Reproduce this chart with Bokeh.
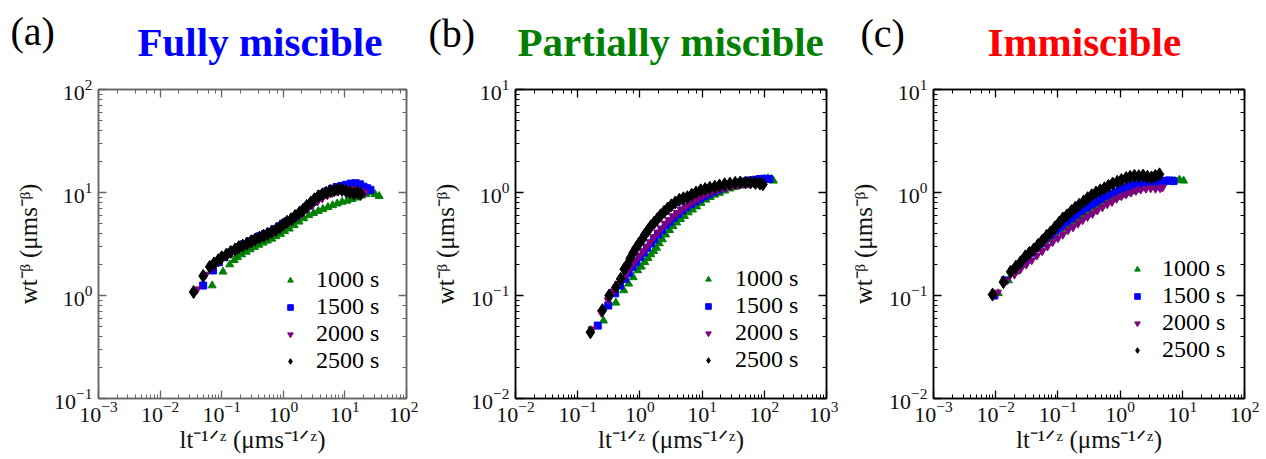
from bokeh.plotting import figure
from bokeh.layouts import row, column
from bokeh.models import LogAxis, Legend, LegendItem, Range1d, ColumnDataSource, Text
from bokeh.core.properties import value
from bokeh.embed import file_html
from bokeh.resources import INLINE

# ---------------- data ----------------
series_labels = ["1000 s", "1500 s", "2000 s", "2500 s"]

# Panel (a) Fully miscible
a_x_1000 = [0.07, 0.105, 0.135, 0.16, 0.18, 0.21, 0.25, 0.29, 0.34, 0.4, 0.47, 0.55, 0.65, 0.76, 0.9, 1.05, 1.25, 1.5,
            1.8, 2.15, 2.6, 3.1, 3.7, 4.4, 5.3, 6.3, 7.5, 9.0, 10.8, 13, 15.5, 18.5, 22, 26, 31, 36]
a_y_1000 = [1.25, 1.7, 2.0, 2.2, 2.35, 2.5, 2.65, 2.8, 2.95, 3.1, 3.25, 3.4, 3.55, 3.75, 3.95, 4.2, 4.45, 4.8,
            5.2, 5.6, 6.0, 6.3, 6.6, 6.9, 7.2, 7.5, 7.8, 8.1, 8.3, 8.6, 8.9, 9.3, 9.6, 10.0, 9.6, 9.2]
a_x_1500 = [0.05, 0.072, 0.09, 0.11, 0.13, 0.16, 0.19, 0.23, 0.28, 0.34, 0.41, 0.5, 0.6, 0.72, 0.86, 1.0, 1.2, 1.45,
            1.75, 2.1, 2.5, 3.0, 3.6, 4.3, 5.2, 6.2, 7.4, 8.8, 10.5, 12.5, 15, 17.5, 20, 23, 26]
a_y_1500 = [1.25, 1.75, 2.1, 2.35, 2.55, 2.75, 2.95, 3.15, 3.35, 3.55, 3.75, 3.95, 4.15, 4.4, 4.7, 5.0, 5.3, 5.7,
            6.2, 6.8, 7.4, 8.1, 8.9, 9.6, 10.3, 10.9, 11.3, 11.6, 11.9, 12.2, 12.3, 12.0, 11.4, 11.0, 10.6]
a_x_2000 = [0.04, 0.055, 0.068, 0.08, 0.095, 0.115, 0.14, 0.17, 0.2, 0.24, 0.29, 0.35, 0.42, 0.5, 0.6, 0.72, 0.86,
            1.0, 1.2, 1.45, 1.75, 2.1, 2.5, 3.0, 3.6, 4.3, 5.2, 6.2, 7.4, 8.8, 10.5, 12.5, 15, 18, 21]
a_y_2000 = [1.15, 1.6, 1.85, 2.05, 2.2, 2.4, 2.6, 2.8, 2.95, 3.1, 3.3, 3.45, 3.6, 3.8, 4.0, 4.25, 4.5,
            4.8, 5.1, 5.5, 5.9, 6.4, 7.0, 7.6, 8.2, 8.8, 9.4, 9.9, 10.3, 10.6, 10.8, 10.9, 10.7, 10.3, 9.9]
a_x_2500 = [0.035, 0.05, 0.064, 0.075, 0.088, 0.10, 0.12, 0.14, 0.165, 0.19, 0.22, 0.26, 0.30, 0.35, 0.41, 0.48, 0.56,
            0.65, 0.76, 0.88, 1.0, 1.15, 1.35, 1.55, 1.8, 2.1, 2.4, 2.8, 3.2, 3.7, 4.3, 5.0, 5.8, 6.7, 7.8, 9.0,
            10.5, 12, 14, 16, 18]
a_y_2500 = [1.08, 1.55, 1.9, 2.05, 2.2, 2.35, 2.5, 2.65, 2.8, 2.95, 3.05, 3.2, 3.35, 3.5, 3.65, 3.8, 3.95,
            4.15, 4.35, 4.6, 4.9, 5.2, 5.5, 5.9, 6.3, 6.8, 7.4, 8.0, 8.6, 9.2, 9.6, 10.0, 10.3, 10.5, 10.7, 10.6,
            10.3, 10.0, 9.8, 10.0, 9.7]

# Panel (b) Partially miscible
b_x_1000 = [0.26, 0.41, 0.55, 0.66, 0.78, 0.92, 1.05, 1.2, 1.35, 1.5, 1.67, 1.85, 2.05, 2.3, 2.6, 3.0, 3.4, 3.9,
            4.5, 5.2, 6.0, 7.0, 8.2, 9.6, 11.5, 13.5, 16, 19, 23, 28, 34, 41, 50, 60, 72, 86, 100, 115, 130, 140]
b_y_1000 = [0.057, 0.085, 0.112, 0.13, 0.15, 0.175, 0.19, 0.21, 0.23, 0.25, 0.27, 0.29, 0.32, 0.35, 0.39, 0.43,
            0.47, 0.51, 0.55, 0.59, 0.64, 0.68, 0.73, 0.79, 0.85, 0.9, 0.95, 0.99, 1.04, 1.09, 1.13, 1.17, 1.21,
            1.25, 1.29, 1.32, 1.35, 1.37, 1.35, 1.3]
b_x_1500 = [0.21, 0.31, 0.4, 0.48, 0.57, 0.66, 0.76, 0.87, 1.0, 1.15, 1.3, 1.5, 1.7, 1.95, 2.25, 2.6, 3.0, 3.5,
            4.1, 4.8, 5.6, 6.6, 7.8, 9.2, 11, 13, 15.5, 18.5, 22, 27, 33, 40, 49, 60, 72, 85, 100, 120]
b_y_1500 = [0.051, 0.08, 0.105, 0.125, 0.145, 0.165, 0.19, 0.21, 0.235, 0.26, 0.29, 0.32, 0.35, 0.39, 0.43,
            0.48, 0.52, 0.57, 0.62, 0.67, 0.72, 0.77, 0.82, 0.87, 0.92, 0.97, 1.02, 1.07, 1.12, 1.17, 1.21, 1.25,
            1.28, 1.31, 1.33, 1.35, 1.36, 1.35]
b_x_2000 = [0.17, 0.24, 0.31, 0.38, 0.46, 0.55, 0.64, 0.74, 0.85, 0.98, 1.12, 1.28, 1.46, 1.68, 1.93, 2.2, 2.55,
            2.95, 3.4, 3.95, 4.6, 5.4, 6.3, 7.4, 8.7, 10.3, 12.2, 14.5, 17.5, 21, 25, 30, 37, 45, 55, 67, 80, 95]
b_y_2000 = [0.047, 0.068, 0.09, 0.11, 0.13, 0.15, 0.175, 0.2, 0.22, 0.245, 0.27, 0.3, 0.33, 0.37, 0.41, 0.45,
            0.5, 0.54, 0.59, 0.63, 0.68, 0.73, 0.78, 0.83, 0.88, 0.93, 0.98, 1.02, 1.06, 1.1, 1.13, 1.16, 1.19,
            1.21, 1.22, 1.23, 1.22, 1.2]
b_x_2500 = [0.16, 0.25, 0.32, 0.41, 0.49, 0.56, 0.63, 0.7, 0.78, 0.87, 0.97, 1.08, 1.2, 1.35, 1.5, 1.7, 1.9, 2.15,
            2.45, 2.8, 3.2, 3.7, 4.3, 5.0, 5.8, 6.8, 8.0, 9.5, 11.2, 13.3, 16, 19, 23, 28, 34, 41, 50, 60, 72, 85, 95]
b_y_2500 = [0.044, 0.072, 0.1, 0.12, 0.145, 0.18, 0.2, 0.23, 0.26, 0.29, 0.32, 0.35, 0.39, 0.43, 0.47, 0.51,
            0.55, 0.6, 0.65, 0.7, 0.75, 0.8, 0.85, 0.88, 0.9, 0.95, 1.0, 1.05, 1.08, 1.11, 1.14, 1.17, 1.2, 1.22,
            1.24, 1.25, 1.25, 1.25, 1.24, 1.22, 1.2]

# Panel (c) Immiscible
c_x_1000 = [0.011, 0.016, 0.021, 0.027, 0.034, 0.042, 0.052, 0.064, 0.078, 0.095, 0.115, 0.14, 0.17, 0.2, 0.24,
            0.29, 0.35, 0.42, 0.5, 0.6, 0.72, 0.86, 1.03, 1.25, 1.5, 1.8, 2.15, 2.6, 3.1, 3.7, 4.4, 5.3, 6.3, 7.5,
            9.0, 10.5]
c_y_1000 = [0.105, 0.14, 0.17, 0.2, 0.23, 0.26, 0.29, 0.32, 0.35, 0.38, 0.42, 0.46, 0.5, 0.54, 0.58, 0.62, 0.67,
            0.72, 0.77, 0.82, 0.86, 0.9, 0.94, 0.98, 1.02, 1.06, 1.1, 1.14, 1.18, 1.21, 1.24, 1.26, 1.28, 1.3, 1.33,
            1.3]
c_x_1500 = [0.0095, 0.014, 0.019, 0.024, 0.03, 0.037, 0.045, 0.055, 0.067, 0.08, 0.097, 0.117, 0.14, 0.17, 0.2,
            0.24, 0.29, 0.35, 0.42, 0.5, 0.6, 0.72, 0.86, 1.03, 1.25, 1.5, 1.8, 2.15, 2.6, 3.1, 3.7, 4.4, 5.2, 6.2,
            7.2]
c_y_1500 = [0.1, 0.14, 0.17, 0.2, 0.23, 0.26, 0.29, 0.32, 0.36, 0.39, 0.43, 0.47, 0.52, 0.56, 0.61, 0.66, 0.71,
            0.76, 0.81, 0.87, 0.92, 0.97, 1.02, 1.07, 1.12, 1.16, 1.2, 1.23, 1.25, 1.27, 1.28, 1.28, 1.3, 1.31, 1.29]
c_x_2000 = [0.0107, 0.015, 0.02, 0.025, 0.031, 0.038, 0.046, 0.056, 0.068, 0.082, 0.1, 0.12, 0.145, 0.175, 0.21,
            0.25, 0.3, 0.36, 0.43, 0.52, 0.62, 0.74, 0.88, 1.05, 1.25, 1.5, 1.8, 2.15, 2.6, 3.1, 3.7, 4.4, 4.8]
c_y_2000 = [0.107, 0.14, 0.16, 0.18, 0.2, 0.22, 0.245, 0.27, 0.3, 0.33, 0.36, 0.39, 0.43, 0.46, 0.5, 0.54, 0.58,
            0.62, 0.67, 0.72, 0.77, 0.81, 0.87, 0.92, 0.96, 1.0, 1.04, 1.07, 1.09, 1.1, 1.09, 1.1, 1.12]
c_x_2500 = [0.0089, 0.0133, 0.0174, 0.021, 0.025, 0.03, 0.035, 0.041, 0.048, 0.056, 0.066, 0.076, 0.09, 0.105,
            0.12, 0.14, 0.165, 0.19, 0.22, 0.26, 0.3, 0.35, 0.41, 0.48, 0.56, 0.65, 0.76, 0.9, 1.05, 1.25, 1.45,
            1.7, 2.0, 2.35, 2.75, 3.2, 3.7, 4.3]
c_y_2500 = [0.102, 0.135, 0.17, 0.19, 0.21, 0.24, 0.26, 0.28, 0.31, 0.34, 0.38, 0.41, 0.46, 0.51, 0.56, 0.6,
            0.66, 0.71, 0.76, 0.82, 0.88, 0.94, 1.0, 1.05, 1.1, 1.16, 1.22, 1.27, 1.32, 1.38, 1.42, 1.45, 1.44,
            1.46, 1.42, 1.4, 1.45, 1.5]

panel_titles = ["Fully miscible", "Partially miscible", "Immiscible"]
panel_title_colors = ["#0000ff", "#008000", "#ff0000"]
panel_tags = ["(a)", "(b)", "(c)"]
y_label_text = "wt\u207b\u1d5d (\u03bcms\u207b\u1d5d)"
x_label_text = "lt\u207b\u00b9\u141f\u1dbb (\u03bcms\u207b\u00b9\u141f\u1dbb)"

# ---------------- layout / styling ----------------
SERIF = "Liberation Serif"
MARKERS = [("triangle", "#008000", 8), ("square", "#0000ff", 7),
           ("inverted_triangle", "#800080", 8), ("diamond", "#000000", 13)]
TOTAL_W = 1264
TOTAL_H = 457
HEAD_H = 76
PANEL_H = TOTAL_H - HEAD_H
TOP = 13          # frame top at 89
FH = 309          # frame bottom at 398
BOTTOM = PANEL_H - TOP - FH

# header: panel tags and coloured titles
head = figure(width=TOTAL_W, height=HEAD_H, x_range=Range1d(0, TOTAL_W), y_range=Range1d(HEAD_H, 0),
              x_axis_type=None, y_axis_type=None, output_backend="svg", toolbar_location=None,
              title=None, min_border=0, outline_line_color=None)
head.text(x=[10, 428, 860], y=[31, 33, 33], text=panel_tags,
          text_font=value(SERIF), text_font_size=value("40px"), text_color="black",
          text_align="left", text_baseline="alphabetic")
head.add_glyph(ColumnDataSource(dict(x=[137, 517, 987], y=[41, 41, 41], text=panel_titles,
                                     color=panel_title_colors)),
               Text(x="x", y="y", text="text", text_color="color", text_font=value(SERIF),
                    text_font_size=value("41px"), text_font_style="bold",
                    text_align="left", text_baseline="alphabetic"))


def style_ticks(ax, frame_color):
    ax.axis_line_color = frame_color
    ax.axis_line_width = 1.5
    ax.major_tick_line_color = frame_color
    ax.minor_tick_line_color = frame_color
    ax.major_tick_line_width = 1.3
    ax.minor_tick_line_width = 1.0
    ax.major_tick_in = 8
    ax.major_tick_out = 0
    ax.minor_tick_in = 4
    ax.minor_tick_out = 0


def make_panel(data, xr, yr, width, left, right, frame_color, legend_loc, legend_standoff):
    p = figure(width=width, height=PANEL_H, x_axis_type="log", y_axis_type="log",
               x_range=Range1d(*xr), y_range=Range1d(*yr), title=None,
               output_backend="svg", toolbar_location=None,
               min_border_left=left, min_border_right=right,
               min_border_top=TOP, min_border_bottom=BOTTOM)
    p.xgrid.visible = False
    p.ygrid.visible = False
    p.outline_line_color = frame_color
    p.outline_line_width = 1.5
    p.background_fill_color = "white"
    p.border_fill_color = "white"

    bottom_ax = p.below[0]
    left_ax = p.left[0]
    for ax in [bottom_ax, left_ax]:
        style_ticks(ax, frame_color)
        ax.major_label_text_font = SERIF
        ax.major_label_text_font_size = "22px"
        ax.major_label_text_color = "#111111"
        ax.axis_label_text_font = SERIF
        ax.axis_label_text_font_size = "25px"
        ax.axis_label_text_font_style = "normal"
        ax.axis_label_text_color = "#111111"
    bottom_ax.major_label_standoff = 3
    bottom_ax.axis_label = x_label_text
    bottom_ax.axis_label_standoff = 1
    left_ax.major_label_standoff = 6
    left_ax.axis_label = y_label_text
    left_ax.axis_label_standoff = 9

    top_ax = LogAxis(major_label_text_font_size="2px", major_label_text_color=None, major_label_standoff=0)
    right_ax = LogAxis(major_label_text_font_size="2px", major_label_text_color=None, major_label_standoff=0)
    style_ticks(top_ax, frame_color)
    style_ticks(right_ax, frame_color)
    p.add_layout(top_ax, "above")
    p.add_layout(right_ax, "right")

    renderers = []
    for (xs, ys), (marker, color, size) in zip(data, MARKERS):
        r = p.scatter(xs, ys, marker=marker, size=size, fill_color=color, line_color=color)
        renderers.append(r)

    legend = Legend(items=[LegendItem(label=lab, renderers=[r]) for lab, r in zip(series_labels, renderers)],
                    location=legend_loc, orientation="vertical",
                    label_text_font=SERIF, label_text_font_size="24px", label_text_color="black",
                    label_text_line_height=1.0,
                    glyph_width=14, glyph_height=26, label_height=26, label_standoff=legend_standoff,
                    spacing=0, padding=0, margin=0,
                    background_fill_alpha=0, border_line_alpha=0)
    p.add_layout(legend)
    return p


pa = make_panel([(a_x_1000, a_y_1000), (a_x_1500, a_y_1500), (a_x_2000, a_y_2000), (a_x_2500, a_y_2500)],
                (1e-3, 1e2), (1e-1, 1e2), 418, 98, 12, "#666666", (185, 24), 19)
pb = make_panel([(b_x_1000, b_y_1000), (b_x_1500, b_y_1500), (b_x_2000, b_y_2000), (b_x_2500, b_y_2500)],
                (1e-2, 1e3), (1e-2, 1e1), 420, 97, 12, "#000000", (186, 25), 20)
pc = make_panel([(c_x_1000, c_y_1000), (c_x_1500, c_y_1500), (c_x_2000, c_y_2000), (c_x_2500, c_y_2500)],
                (1e-3, 1e2), (1e-2, 1e1), 426, 95, 20, "#000000", (197, 35), 18)

layout = column(head, row(pa, pb, pc))
open("out.html", "w").write(file_html(layout, INLINE))
